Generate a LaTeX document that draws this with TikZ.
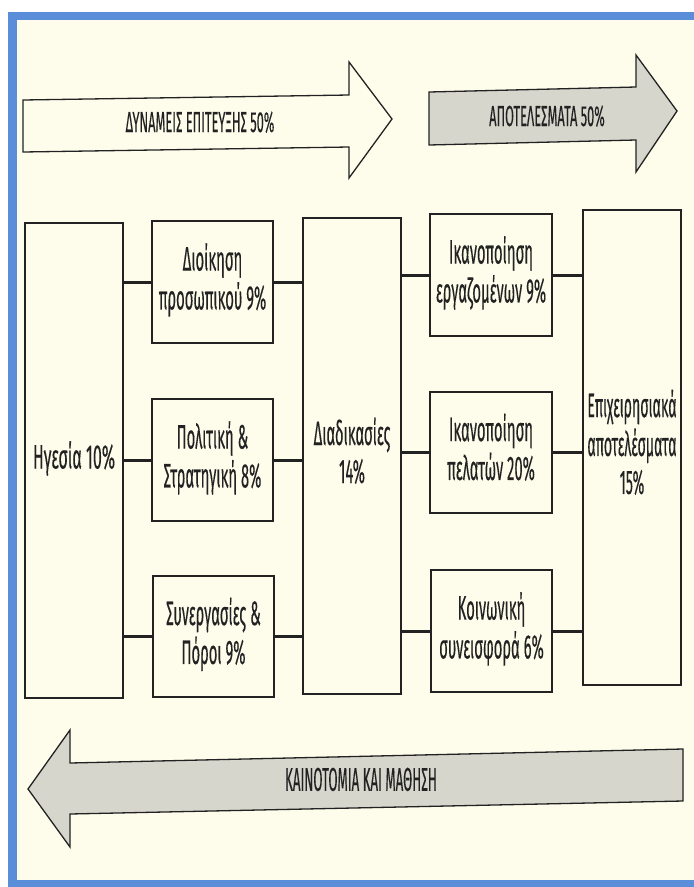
\documentclass[tikz,border=0pt]{standalone}
\usepackage{fontspec}
\setmainfont{Fira Sans}[FakeBold=0.4]
\newcommand{\cnd}[2]{\scalebox{#1}[1]{\begin{tabular}{@{}c@{}}#2\end{tabular}}}
\definecolor{cream}{HTML}{FEFDEC}
\definecolor{frameblue}{HTML}{5A8ED8}
\definecolor{arrowgrey}{HTML}{D6D6CC}
\definecolor{ink}{HTML}{222222}
\begin{document}
\begin{tikzpicture}[x=1pt,y=-1pt,
  box/.style={draw=ink,line width=1.3pt,fill=cream,inner sep=0pt,align=center,
    font=\fontsize{34}{38}\selectfont,text=ink},
  link/.style={draw=ink,line width=3pt},
  bigarrow/.style={draw=ink,line width=1.3pt,line join=miter},
  captext/.style={font=\fontsize{29}{30}\selectfont,text=ink,inner sep=0pt},
  bcaptext/.style={font=\fontsize{33}{34}\selectfont,text=ink,inner sep=0pt}]
\useasboundingbox (0,0) rectangle (694,887);
\fill[white] (0,0) rectangle (694,887);
\fill[cream] (17,20) rectangle (694,880);
\fill[frameblue] (8,12) rectangle (694,20);
\fill[frameblue] (8,12) rectangle (17,887);
\fill[frameblue] (8,880) rectangle (694,887);

% top arrows
\draw[bigarrow,fill=cream] (23,100) -- (349,95) -- (349,62) -- (392,119) -- (349,178) -- (349,147) -- (23,152) -- cycle;
\node[captext] (t1) at (200,126) {\cnd{0.44}{ΔΥΝΑΜΕΙΣ ΕΠΙΤΕΥΞΗΣ 50\%}};
\draw[bigarrow,fill=arrowgrey] (429,92) -- (636,87) -- (636,55) -- (677,111) -- (636,172) -- (636,140) -- (429,145) -- cycle;
\node[captext] (t2) at (547,120) {\cnd{0.44}{ΑΠΟΤΕΛΕΣΜΑΤΑ 50\%}};

% bottom arrow
\draw[bigarrow,fill=arrowgrey] (683,749) -- (70,763) -- (70,730) -- (28,789) -- (70,847) -- (70,814) -- (683,801) -- cycle;
\node[bcaptext] (t3) at (361,784) {\cnd{0.40}{ΚΑΙΝΟΤΟΜΙΑ ΚΑΙ ΜΑΘΗΣΗ}};

% boxes
\node[box,minimum width=98pt,minimum height=475pt] (hg) at (74,460.5) {\raisebox{-14pt}{\cnd{0.47}{Ηγεσία 10\%}}};
\node[box,minimum width=121pt,minimum height=122pt] (dk) at (212.5,282) {\cnd{0.435}{Διοίκηση\\προσωπικού 9\%}};
\node[box,minimum width=121pt,minimum height=122pt] (pol) at (212.5,460) {\cnd{0.435}{Πολιτική \&\\Στρατηγική 8\%}};
\node[box,minimum width=121pt,minimum height=121pt] (syn) at (213.5,636.5) {\cnd{0.435}{Συνεργασίες \&\\Πόροι 9\%}};
\node[box,minimum width=98pt,minimum height=476pt] (dia) at (352,456) {\raisebox{-20pt}{\cnd{0.435}{Διαδικασίες\\14\%}}};
\node[box,minimum width=122pt,minimum height=122pt] (ike) at (491,275) {\cnd{0.435}{Ικανοποίηση\\εργαζομένων 9\%}};
\node[box,minimum width=122pt,minimum height=121pt] (ikp) at (491,452.5) {\cnd{0.435}{Ικανοποίηση\\πελατών 20\%}};
\node[box,minimum width=121pt,minimum height=122pt] (koi) at (491.5,631) {\cnd{0.435}{Κοινωνική\\συνεισφορά 6\%}};
\node[box,minimum width=98pt,minimum height=475pt] (epi) at (632,447.5) {\raisebox{-38pt}{\cnd{0.415}{Επιχειρησιακά\\αποτελέσματα\\15\%}}};

% connectors
\foreach \b in {dk,pol,syn} {
  \draw[link] (\b.west -| hg.east) -- (\b.west);
  \draw[link] (\b.east) -- (\b.east -| dia.west);
}
\foreach \b in {ike,ikp,koi} {
  \draw[link] (\b.west -| dia.east) -- (\b.west);
  \draw[link] (\b.east) -- (\b.east -| epi.west);
}
\end{tikzpicture}
\end{document}
